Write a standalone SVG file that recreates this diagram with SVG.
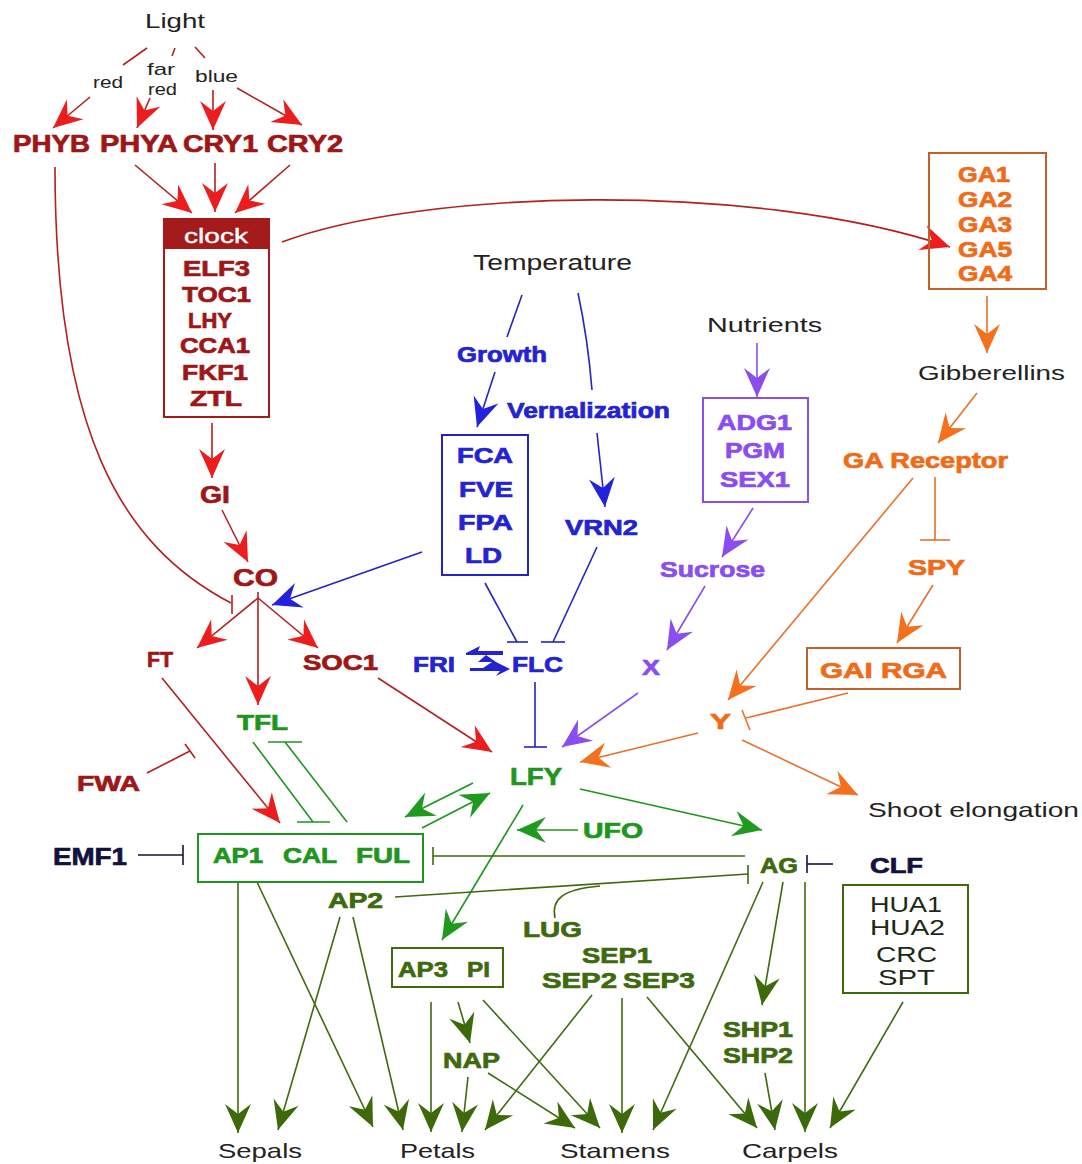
<svg xmlns="http://www.w3.org/2000/svg" width="1082" height="1164" viewBox="0 0 1082 1164">
<style>
text{font-family:"Liberation Sans",Arial,sans-serif}
.b{font-weight:bold;font-size:22px;stroke-width:0.7}
.n{font-weight:normal;font-size:21px;fill:#222}
.s{font-weight:normal;font-size:17px;fill:#222}
.dr{fill:#9e1616;stroke:#9e1616}.bl{fill:#2323d2;stroke:#2323d2}.pu{fill:#8a4ef0;stroke:#8a4ef0}.or{fill:#f06a18;stroke:#f06a18}.gr{fill:#1e961e;stroke:#1e961e}.dg{fill:#3e6a0e;stroke:#3e6a0e}.nv{fill:#12123e;stroke:#12123e}.hk{fill:#1c2a14;font-weight:normal;font-size:22px}
.c{fill:none;stroke-width:1.6}
.cr{stroke:#b42020}.cb{stroke:#2323c8}.cp{stroke:#8a4ef0}.co{stroke:#e8702a}.cg{stroke:#1e961e}.cd{stroke:#3e6a0e}.cn{stroke:#12123e}
.box{fill:none;stroke-width:2}
</style>
<defs>
<marker id="a-r" viewBox="-32 -16 34 32" markerWidth="34" markerHeight="32" refX="0" refY="0" orient="auto" markerUnits="userSpaceOnUse"><path d="M0,0 L-29,-13 L-19,0 L-29,13 Z" fill="#ee1d1d"/></marker>
<marker id="a-b" viewBox="-32 -16 34 32" markerWidth="34" markerHeight="32" refX="0" refY="0" orient="auto" markerUnits="userSpaceOnUse"><path d="M0,0 L-29,-13 L-19,0 L-29,13 Z" fill="#2222dd"/></marker>
<marker id="a-p" viewBox="-32 -16 34 32" markerWidth="34" markerHeight="32" refX="0" refY="0" orient="auto" markerUnits="userSpaceOnUse"><path d="M0,0 L-29,-13 L-19,0 L-29,13 Z" fill="#8a4ef0"/></marker>
<marker id="a-o" viewBox="-32 -16 34 32" markerWidth="34" markerHeight="32" refX="0" refY="0" orient="auto" markerUnits="userSpaceOnUse"><path d="M0,0 L-29,-13 L-19,0 L-29,13 Z" fill="#f4701c"/></marker>
<marker id="a-g" viewBox="-32 -16 34 32" markerWidth="34" markerHeight="32" refX="0" refY="0" orient="auto" markerUnits="userSpaceOnUse"><path d="M0,0 L-29,-13 L-19,0 L-29,13 Z" fill="#1f9a1f"/></marker>
<marker id="a-d" viewBox="-32 -16 34 32" markerWidth="34" markerHeight="32" refX="0" refY="0" orient="auto" markerUnits="userSpaceOnUse"><path d="M0,0 L-29,-13 L-19,0 L-29,13 Z" fill="#3c6a0a"/></marker>
</defs>
<rect width="1082" height="1164" fill="#fff"/>

<g id="connectors">
  <g class="c cr">
    <line x1="147" y1="48" x2="123" y2="65"/>
    <line x1="175" y1="48" x2="172" y2="56"/>
    <line x1="195" y1="47" x2="205" y2="58"/>
    <line x1="90" y1="97" x2="53" y2="128" marker-end="url(#a-r)"/>
    <line x1="150" y1="98" x2="137" y2="128" marker-end="url(#a-r)"/>
    <line x1="213" y1="90" x2="213" y2="130" marker-end="url(#a-r)"/>
    <line x1="237" y1="88" x2="302" y2="125" marker-end="url(#a-r)"/>
    <line x1="135" y1="165" x2="192" y2="213" marker-end="url(#a-r)"/>
    <line x1="215" y1="163" x2="215" y2="212" marker-end="url(#a-r)"/>
    <line x1="290" y1="165" x2="235" y2="213" marker-end="url(#a-r)"/>
    <path d="M282,242 C420,190 750,180 950,247" marker-end="url(#a-r)"/>
    <line x1="212" y1="423" x2="212" y2="478" marker-end="url(#a-r)"/>
    <line x1="222" y1="510" x2="248" y2="562" marker-end="url(#a-r)"/>
    <path d="M55,167 C55,430 120,545 231,603"/>
    <line x1="232" y1="595" x2="232" y2="614"/>
    <line x1="258" y1="598" x2="197" y2="648" marker-end="url(#a-r)"/>
    <line x1="258" y1="592" x2="258" y2="705" marker-end="url(#a-r)"/>
    <line x1="258" y1="598" x2="318" y2="648" marker-end="url(#a-r)"/>
    <line x1="162" y1="678" x2="280" y2="823" marker-end="url(#a-r)"/>
    <line x1="147" y1="773" x2="190" y2="751"/>
    <line x1="185" y1="744" x2="195" y2="758"/>
    <line x1="378" y1="678" x2="492" y2="752" marker-end="url(#a-r)"/>
  </g>
  <g class="c cb">
    <line x1="522" y1="295" x2="507" y2="337"/>
    <line x1="495" y1="372" x2="477" y2="427" marker-end="url(#a-b)"/>
    <path d="M578,293 Q588,340 592,390"/>
    <line x1="597" y1="433" x2="605" y2="507" marker-end="url(#a-b)"/>
    <line x1="422" y1="552" x2="272" y2="605" marker-end="url(#a-b)"/>
    <line x1="485" y1="583" x2="517" y2="642"/>
    <line x1="507" y1="642" x2="528" y2="642"/>
    <line x1="597" y1="547" x2="553" y2="642"/>
    <line x1="541" y1="642" x2="565" y2="642"/>
    <line x1="535" y1="682" x2="535" y2="747"/>
    <line x1="524" y1="747" x2="547" y2="747"/>
  </g>
  <g id="fri-flc" fill="#2323d2">
    <path d="M466,653 L480,646 L478,651 L503,651 L503,655 L466,655 Z"/>
    <path d="M486,655 L478,662 L492,662 L483,668 L470,668 L470,671 L500,671 L496,676 L510,669 L496,662 Z"/>
  </g>
  <g class="c cp">
    <line x1="757" y1="343" x2="757" y2="397" marker-end="url(#a-p)"/>
    <line x1="753" y1="508" x2="722" y2="557" marker-end="url(#a-p)"/>
    <line x1="705" y1="586" x2="667" y2="650" marker-end="url(#a-p)"/>
    <line x1="638" y1="693" x2="562" y2="747" marker-end="url(#a-p)"/>
  </g>
  <g class="c co">
    <line x1="987" y1="296" x2="987" y2="353" marker-end="url(#a-o)"/>
    <line x1="977" y1="393" x2="938" y2="443" marker-end="url(#a-o)"/>
    <line x1="935" y1="477" x2="935" y2="540"/>
    <line x1="920" y1="540" x2="950" y2="540"/>
    <line x1="933" y1="585" x2="897" y2="643" marker-end="url(#a-o)"/>
    <line x1="913" y1="478" x2="728" y2="700" marker-end="url(#a-o)"/>
    <line x1="848" y1="693" x2="746" y2="718"/>
    <line x1="742" y1="710" x2="750" y2="730"/>
    <line x1="698" y1="733" x2="580" y2="762" marker-end="url(#a-o)"/>
    <line x1="742" y1="740" x2="858" y2="795" marker-end="url(#a-o)"/>
  </g>
  <g class="c cg">
    <line x1="253" y1="742" x2="313" y2="822"/>
    <line x1="297" y1="822" x2="330" y2="822"/>
    <line x1="347" y1="822" x2="285" y2="742"/>
    <line x1="268" y1="742" x2="302" y2="742"/>
    <line x1="473" y1="783" x2="405" y2="817" marker-end="url(#a-g)"/>
    <line x1="422" y1="828" x2="490" y2="793" marker-end="url(#a-g)"/>
    <line x1="580" y1="789" x2="762" y2="830" marker-end="url(#a-g)"/>
    <line x1="578" y1="830" x2="517" y2="830" marker-end="url(#a-g)"/>
    <line x1="523" y1="805" x2="442" y2="940" marker-end="url(#a-g)"/>
  </g>
  <g class="c cn">
    <line x1="138" y1="855" x2="183" y2="855"/>
    <line x1="183" y1="845" x2="183" y2="865"/>
    <line x1="833" y1="864" x2="807" y2="864"/>
    <line x1="807" y1="855" x2="807" y2="873"/>
  </g>
  <g class="c cd">
    <line x1="745" y1="856" x2="433" y2="856"/>
    <line x1="433" y1="847" x2="433" y2="865"/>
    <line x1="395" y1="897" x2="748" y2="874"/>
    <line x1="748" y1="865" x2="748" y2="884"/>
    <path d="M555,918 C551,900 562,889 600,886"/>
    <line x1="238" y1="882" x2="238" y2="1133" marker-end="url(#a-d)"/>
    <line x1="340" y1="917" x2="278" y2="1130" marker-end="url(#a-d)"/>
    <line x1="257" y1="882" x2="373" y2="1127" marker-end="url(#a-d)"/>
    <line x1="353" y1="917" x2="403" y2="1130" marker-end="url(#a-d)"/>
    <line x1="431" y1="1002" x2="431" y2="1132" marker-end="url(#a-d)"/>
    <line x1="458" y1="1002" x2="470" y2="1043" marker-end="url(#a-d)"/>
    <line x1="468" y1="1077" x2="462" y2="1132" marker-end="url(#a-d)"/>
    <line x1="592" y1="995" x2="485" y2="1130" marker-end="url(#a-d)"/>
    <line x1="483" y1="1000" x2="600" y2="1128" marker-end="url(#a-d)"/>
    <line x1="488" y1="1073" x2="575" y2="1128" marker-end="url(#a-d)"/>
    <line x1="622" y1="998" x2="622" y2="1133" marker-end="url(#a-d)"/>
    <line x1="763" y1="882" x2="653" y2="1130" marker-end="url(#a-d)"/>
    <line x1="647" y1="997" x2="757" y2="1128" marker-end="url(#a-d)"/>
    <line x1="783" y1="882" x2="762" y2="1005" marker-end="url(#a-d)"/>
    <line x1="765" y1="1073" x2="775" y2="1130" marker-end="url(#a-d)"/>
    <line x1="805" y1="882" x2="805" y2="1132" marker-end="url(#a-d)"/>
    <line x1="903" y1="1002" x2="830" y2="1128" marker-end="url(#a-d)"/>
  </g>
</g>

<g id="light-labels">
  <text class="s" x="93" y="88" textLength="30" lengthAdjust="spacingAndGlyphs">red</text>
  <text class="s" x="147" y="75" textLength="28" lengthAdjust="spacingAndGlyphs">far</text>
  <text class="s" x="148" y="95" textLength="29" lengthAdjust="spacingAndGlyphs">red</text>
  <text class="s" x="195" y="82" textLength="43" lengthAdjust="spacingAndGlyphs">blue</text>
</g>

<g id="n-light"><text class="n" x="145" y="28" textLength="60" lengthAdjust="spacingAndGlyphs">Light</text></g>
<g id="n-phyb"><text class="b dr" style="font-size:24px" x="13" y="152" textLength="77" lengthAdjust="spacingAndGlyphs">PHYB</text></g>
<g id="n-phya"><text class="b dr" style="font-size:24px" x="100" y="152" textLength="78" lengthAdjust="spacingAndGlyphs">PHYA</text></g>
<g id="n-cry1"><text class="b dr" style="font-size:24px" x="183" y="152" textLength="75" lengthAdjust="spacingAndGlyphs">CRY1</text></g>
<g id="n-cry2"><text class="b dr" style="font-size:24px" x="267" y="152" textLength="76" lengthAdjust="spacingAndGlyphs">CRY2</text></g>

<g id="n-clock">
  <rect x="164" y="219" width="105" height="30" fill="#a51a1a"/>
  <rect class="box" x="164" y="219" width="105" height="198" stroke="#a51a1a"/>
  <text x="184" y="243" fill="#fff" stroke="#fff" stroke-width="0.4" style="font-size:21px" textLength="64" lengthAdjust="spacingAndGlyphs">clock</text>
  <text class="b dr" x="183" y="276" textLength="67" lengthAdjust="spacingAndGlyphs">ELF3</text>
  <text class="b dr" x="182" y="302" textLength="69" lengthAdjust="spacingAndGlyphs">TOC1</text>
  <text class="b dr" x="188" y="328" textLength="44" lengthAdjust="spacingAndGlyphs">LHY</text>
  <text class="b dr" x="180" y="353" textLength="70" lengthAdjust="spacingAndGlyphs">CCA1</text>
  <text class="b dr" x="182" y="380" textLength="66" lengthAdjust="spacingAndGlyphs">FKF1</text>
  <text class="b dr" x="190" y="406" textLength="52" lengthAdjust="spacingAndGlyphs">ZTL</text>
</g>

<g id="n-ga">
  <rect class="box" x="929" y="153" width="117" height="136" stroke="#c0602a"/>
  <text class="b or" x="958" y="182" textLength="52" lengthAdjust="spacingAndGlyphs">GA1</text>
  <text class="b or" x="958" y="207" textLength="54" lengthAdjust="spacingAndGlyphs">GA2</text>
  <text class="b or" x="958" y="232" textLength="54" lengthAdjust="spacingAndGlyphs">GA3</text>
  <text class="b or" x="958" y="257" textLength="54" lengthAdjust="spacingAndGlyphs">GA5</text>
  <text class="b or" x="958" y="281" textLength="54" lengthAdjust="spacingAndGlyphs">GA4</text>
</g>

<g id="n-temperature"><text class="n" style="font-size:22px" x="473" y="270" textLength="159" lengthAdjust="spacingAndGlyphs">Temperature</text></g>
<g id="n-growth"><text class="b bl" x="457" y="362" textLength="90" lengthAdjust="spacingAndGlyphs">Growth</text></g>
<g id="n-vernalization"><text class="b bl" x="507" y="418" textLength="163" lengthAdjust="spacingAndGlyphs">Vernalization</text></g>
<g id="n-fca">
  <rect class="box" x="442" y="435" width="86" height="140" stroke="#2323c8"/>
  <text class="b bl" x="457" y="463" textLength="56" lengthAdjust="spacingAndGlyphs">FCA</text>
  <text class="b bl" x="459" y="497" textLength="54" lengthAdjust="spacingAndGlyphs">FVE</text>
  <text class="b bl" x="458" y="530" textLength="55" lengthAdjust="spacingAndGlyphs">FPA</text>
  <text class="b bl" x="465" y="563" textLength="37" lengthAdjust="spacingAndGlyphs">LD</text>
</g>
<g id="n-vrn2"><text class="b bl" x="565" y="535" textLength="73" lengthAdjust="spacingAndGlyphs">VRN2</text></g>
<g id="n-fri"><text class="b bl" x="413" y="672" textLength="42" lengthAdjust="spacingAndGlyphs">FRI</text></g>
<g id="n-flc"><text class="b bl" x="512" y="672" textLength="51" lengthAdjust="spacingAndGlyphs">FLC</text></g>

<g id="n-nutrients"><text class="n" x="707" y="332" textLength="115" lengthAdjust="spacingAndGlyphs">Nutrients</text></g>
<g id="n-adg">
  <rect class="box" x="703" y="398" width="105" height="104" stroke="#8a4ef0"/>
  <text class="b pu" x="717" y="430" textLength="75" lengthAdjust="spacingAndGlyphs">ADG1</text>
  <text class="b pu" x="725" y="458" textLength="60" lengthAdjust="spacingAndGlyphs">PGM</text>
  <text class="b pu" x="720" y="487" textLength="70" lengthAdjust="spacingAndGlyphs">SEX1</text>
</g>
<g id="n-sucrose"><text class="b pu" x="660" y="577" textLength="105" lengthAdjust="spacingAndGlyphs">Sucrose</text></g>
<g id="n-x"><text class="b pu" x="642" y="675" textLength="18" lengthAdjust="spacingAndGlyphs">X</text></g>

<g id="n-gibberellins"><text class="n" x="918" y="380" textLength="147" lengthAdjust="spacingAndGlyphs">Gibberellins</text></g>
<g id="n-garec"><text class="b or" x="843" y="468" textLength="165" lengthAdjust="spacingAndGlyphs">GA Receptor</text></g>
<g id="n-spy"><text class="b or" x="908" y="575" textLength="57" lengthAdjust="spacingAndGlyphs">SPY</text></g>
<g id="n-gai">
  <rect class="box" x="807" y="648" width="153" height="41" stroke="#c0602a"/>
  <text class="b or" x="820" y="678" textLength="127" lengthAdjust="spacingAndGlyphs">GAI RGA</text>
</g>
<g id="n-y"><text class="b or" x="710" y="729" textLength="21" lengthAdjust="spacingAndGlyphs">Y</text></g>
<g id="n-shoot"><text class="n" x="868" y="817" textLength="211" lengthAdjust="spacingAndGlyphs">Shoot elongation</text></g>

<g id="n-gi"><text class="b dr" style="font-size:24px" x="200" y="503" textLength="30" lengthAdjust="spacingAndGlyphs">GI</text></g>
<g id="n-co"><text class="b dr" style="font-size:24px" x="233" y="586" textLength="45" lengthAdjust="spacingAndGlyphs">CO</text></g>
<g id="n-ft"><text class="b dr" x="147" y="667" textLength="26" lengthAdjust="spacingAndGlyphs">FT</text></g>
<g id="n-soc1"><text class="b dr" x="303" y="670" textLength="75" lengthAdjust="spacingAndGlyphs">SOC1</text></g>
<g id="n-fwa"><text class="b dr" x="77" y="791" textLength="63" lengthAdjust="spacingAndGlyphs">FWA</text></g>
<g id="n-tfl"><text class="b gr" x="237" y="730" textLength="51" lengthAdjust="spacingAndGlyphs">TFL</text></g>
<g id="n-lfy"><text class="b gr" style="font-size:24px" x="510" y="785" textLength="52" lengthAdjust="spacingAndGlyphs">LFY</text></g>
<g id="n-ufo"><text class="b gr" x="583" y="838" textLength="60" lengthAdjust="spacingAndGlyphs">UFO</text></g>
<g id="n-emf1"><text class="b nv" style="font-size:24px" x="53" y="865" textLength="74" lengthAdjust="spacingAndGlyphs">EMF1</text></g>
<g id="n-ap1">
  <rect class="box" x="198" y="834" width="225" height="48" stroke="#1e961e"/>
  <text class="b gr" x="213" y="863" textLength="50" lengthAdjust="spacingAndGlyphs">AP1</text>
  <text class="b gr" x="283" y="863" textLength="54" lengthAdjust="spacingAndGlyphs">CAL</text>
  <text class="b gr" x="356" y="863" textLength="54" lengthAdjust="spacingAndGlyphs">FUL</text>
</g>
<g id="n-ap2"><text class="b dg" x="328" y="908" textLength="55" lengthAdjust="spacingAndGlyphs">AP2</text></g>
<g id="n-ag"><text class="b dg" x="760" y="873" textLength="38" lengthAdjust="spacingAndGlyphs">AG</text></g>
<g id="n-clf"><text class="b nv" x="870" y="873" textLength="53" lengthAdjust="spacingAndGlyphs">CLF</text></g>
<g id="n-hua">
  <rect class="box" x="843" y="885" width="125" height="108" stroke="#3e6a0e"/>
  <text class="hk" x="870" y="912" textLength="72" lengthAdjust="spacingAndGlyphs">HUA1</text>
  <text class="hk" x="870" y="935" textLength="75" lengthAdjust="spacingAndGlyphs">HUA2</text>
  <text class="hk" x="876" y="962" textLength="61" lengthAdjust="spacingAndGlyphs">CRC</text>
  <text class="hk" x="878" y="985" textLength="57" lengthAdjust="spacingAndGlyphs">SPT</text>
</g>
<g id="n-ap3">
  <rect class="box" x="392" y="948" width="111" height="39" stroke="#3e6a0e"/>
  <text class="b dg" x="398" y="977" textLength="50" lengthAdjust="spacingAndGlyphs">AP3</text>
  <text class="b dg" x="467" y="977" textLength="23" lengthAdjust="spacingAndGlyphs">PI</text>
</g>
<g id="n-lug"><text class="b dg" x="523" y="937" textLength="59" lengthAdjust="spacingAndGlyphs">LUG</text></g>
<g id="n-sep">
  <text class="b dg" x="582" y="963" textLength="70" lengthAdjust="spacingAndGlyphs">SEP1</text>
  <text class="b dg" x="542" y="988" textLength="75" lengthAdjust="spacingAndGlyphs">SEP2</text>
  <text class="b dg" x="623" y="988" textLength="72" lengthAdjust="spacingAndGlyphs">SEP3</text>
</g>
<g id="n-shp">
  <text class="b dg" x="723" y="1037" textLength="70" lengthAdjust="spacingAndGlyphs">SHP1</text>
  <text class="b dg" x="723" y="1063" textLength="70" lengthAdjust="spacingAndGlyphs">SHP2</text>
</g>
<g id="n-nap"><text class="b dg" x="443" y="1068" textLength="57" lengthAdjust="spacingAndGlyphs">NAP</text></g>
<g id="n-sepals"><text class="n" x="218" y="1158" textLength="84" lengthAdjust="spacingAndGlyphs">Sepals</text></g>
<g id="n-petals"><text class="n" x="400" y="1158" textLength="75" lengthAdjust="spacingAndGlyphs">Petals</text></g>
<g id="n-stamens"><text class="n" x="560" y="1158" textLength="110" lengthAdjust="spacingAndGlyphs">Stamens</text></g>
<g id="n-carpels"><text class="n" x="742" y="1158" textLength="96" lengthAdjust="spacingAndGlyphs">Carpels</text></g>
</svg>
